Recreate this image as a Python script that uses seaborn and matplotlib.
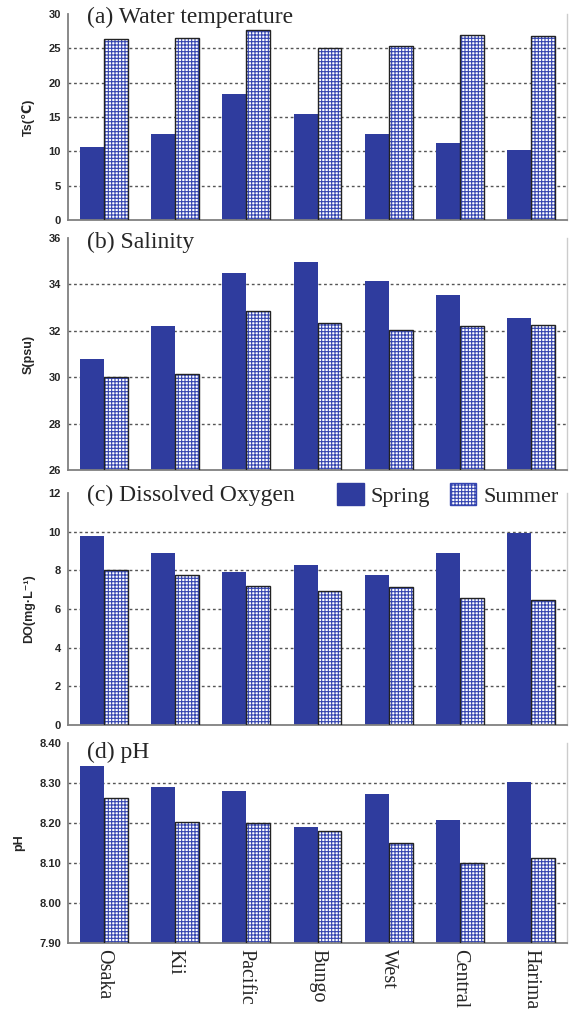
import numpy as np
import pandas as pd
import seaborn as sns
import matplotlib
matplotlib.use("Agg")
import matplotlib.pyplot as plt
from matplotlib.patches import Rectangle, Patch

# ---------------- data ----------------
sites = ["Osaka", "Kii", "Pacific", "Bungo", "West", "Central", "Harima"]
seasons = ["Spring", "Summer"]

temp_spring = [10.6, 12.5, 18.3, 15.5, 12.5, 11.2, 10.2]
temp_summer = [26.3, 26.5, 27.6, 25.0, 25.4, 27.0, 26.8]

sal_spring = [30.8, 32.2, 34.5, 34.95, 34.15, 33.55, 32.55]
sal_summer = [30.0, 30.15, 32.85, 32.35, 32.05, 32.2, 32.25]

do_spring = [9.78, 8.88, 7.93, 8.30, 7.75, 8.88, 9.92]
do_summer = [8.00, 7.75, 7.20, 6.95, 7.15, 6.55, 6.47]

ph_spring = [8.342, 8.289, 8.281, 8.190, 8.272, 8.208, 8.302]
ph_summer = [8.262, 8.203, 8.200, 8.180, 8.150, 8.100, 8.113]

titles = ["(a) Water temperature", "(b) Salinity", "(c) Dissolved Oxygen", "(d) pH"]
ylabels = ["Ts(℃)", "S(psu)", "DO(mg·L⁻¹)", "pH"]
yticks_list = [
    [0, 5, 10, 15, 20, 25, 30],
    [26, 28, 30, 32, 34, 36],
    [0, 2, 4, 6, 8, 10, 12],
    [7.90, 8.00, 8.10, 8.20, 8.30, 8.40],
]
tick_fmt = ["{:.0f}", "{:.0f}", "{:.0f}", "{:.2f}"]
series = [
    (temp_spring, temp_summer),
    (sal_spring, sal_summer),
    (do_spring, do_summer),
    (ph_spring, ph_summer),
]

# ---------------- style ----------------
sns.set_style("white")
plt.rcParams["font.family"] = ["Liberation Sans", "DejaVu Sans"]
plt.rcParams["hatch.linewidth"] = 0.8

SPRING = "#2f3c9e"
HATCH = "#3545b0"
SERIF = ["Liberation Serif", "DejaVu Serif"]

W, H = 570, 1015
fig = plt.figure(figsize=(W / 100, H / 100), dpi=100)

# panel pixel extents (top, bottom)
panel_px = [(14, 220), (238, 470), (493, 725), (743, 943)]
left_px, right_px = 68, 567
title_yc = [17, 242, 495, 752]

axes = []
for i, (top, bot) in enumerate(panel_px):
    ax = fig.add_axes([left_px / W, 1 - bot / H, (right_px - left_px) / W, (bot - top) / H])
    axes.append(ax)
    sp, su = series[i]
    df = pd.DataFrame({
        "site": sites * 2,
        "season": [seasons[0]] * len(sites) + [seasons[1]] * len(sites),
        "value": list(sp) + list(su),
    })
    ticks = yticks_list[i]
    for t in ticks[1:-1]:
        ax.axhline(t, color="#555555", lw=1.0, ls=(0, (2, 2)), zorder=0)
    sns.barplot(data=df, x="site", y="value", hue="season", order=sites,
                hue_order=seasons, palette=[SPRING, "white"], width=0.67,
                saturation=1, legend=False, ax=ax, zorder=2)
    ax.set_ylim(ticks[0], ticks[-1])
    ax.set_xlim(-0.5, len(sites) - 0.5)
    # style bars
    bars = ax.patches
    n = len(sites)
    for j, p in enumerate(bars[:2 * n]):
        if j < n:
            p.set_facecolor(SPRING)
            p.set_edgecolor(SPRING)
            p.set_linewidth(0)
        else:
            p.set_facecolor("white")
            p.set_edgecolor(HATCH)
            p.set_hatch("+++++")
            p.set_linewidth(0)
            ax.add_patch(Rectangle((p.get_x(), p.get_y()), p.get_width(), p.get_height(),
                                   fill=False, edgecolor="#222222", lw=1.0, zorder=3))
    ax.set_yticks(ticks)
    ax.set_yticklabels([tick_fmt[i].format(t) for t in ticks],
                       fontweight="bold", fontsize=8)
    ax.tick_params(axis="y", direction="in", length=3, width=1, color="#808080", pad=5)
    ax.set_ylabel(ylabels[i], fontweight="bold", fontsize=9, labelpad=10)
    ax.set_xlabel("")
    if i < 3:
        ax.set_xticklabels([])
        ax.tick_params(axis="x", length=0)
    else:
        ax.set_xticks(range(len(sites)))
        ax.set_xticklabels(sites, rotation=270, family=SERIF, fontsize=14.5,
                           va="top", ha="center")
        ax.tick_params(axis="x", length=0, pad=4)
    for s in ["left", "bottom"]:
        ax.spines[s].set_color("#808080")
        ax.spines[s].set_linewidth(1.3)
    ax.spines["right"].set_color("#cccccc")
    ax.spines["right"].set_linewidth(1.0)
    ax.spines["top"].set_visible(False)
    fig.text(87 / W, 1 - title_yc[i] / H, titles[i], family=SERIF, fontsize=17,
             va="center", ha="left")

# legend in panel (c)
handles = [Patch(facecolor=SPRING, edgecolor=SPRING),
           Patch(facecolor="white", edgecolor=HATCH, hatch="+++++")]
fig.legend(handles, seasons, loc="center left",
           bbox_to_anchor=(337 / W, 1 - 495 / H), bbox_transform=fig.transFigure,
           ncol=2, frameon=False, prop={"family": SERIF, "size": 16},
           handlelength=1.2, handleheight=1.15, handletextpad=0.3,
           columnspacing=0.9, borderpad=0, borderaxespad=0)

fig.savefig("out.png", dpi=100)
